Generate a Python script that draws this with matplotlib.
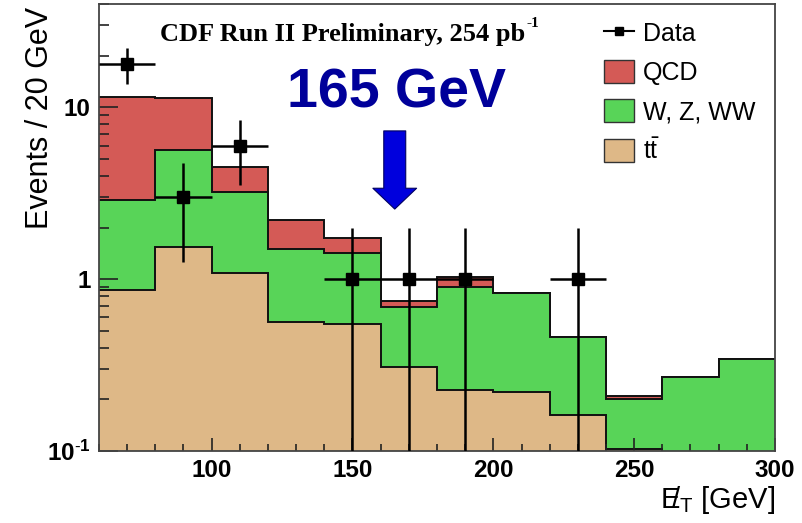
import numpy as np
import matplotlib
matplotlib.use("Agg")
import matplotlib.pyplot as plt
from matplotlib.lines import Line2D
from matplotlib.patches import Patch
from matplotlib.ticker import FixedLocator, FixedFormatter, MultipleLocator

plt.rcParams['font.family'] = ['Liberation Sans', 'DejaVu Sans']
plt.rcParams['mathtext.fontset'] = 'custom'
plt.rcParams['mathtext.rm'] = 'Liberation Sans'
plt.rcParams['mathtext.bf'] = 'Liberation Sans:bold'
plt.rcParams['mathtext.it'] = 'Liberation Sans:italic'

# ---------------------------------------------------------------
# missing ET spectrum, 20 GeV bins from 60 to 300 GeV
# ---------------------------------------------------------------
edges = np.arange(60, 301, 20)
ttbar = [0.87, 1.54, 1.09, 0.564, 0.545, 0.309, 0.228, 0.221, 0.162, 0.103, 0.06, 0.05]
wzww = [2.01, 4.10, 2.13, 0.926, 0.875, 0.381, 0.667, 0.608, 0.302, 0.097, 0.209, 0.293]
qcd = [8.62, 5.76, 1.29, 0.72, 0.31, 0.054, 0.135, 0.0, 0.0, 0.009, 0.0, 0.0]
data = [18, 3, 6, 0, 1, 1, 1, 0, 1, 0, 0, 0]

c_qcd = '#d45a56'
c_wzww = '#58d458'
c_tt = '#deb887'

fig = plt.figure(figsize=(8.03, 5.23), dpi=100)
ax = fig.add_axes([99 / 803, 1 - 451 / 523, 676 / 803, 447 / 523])
ax.set_yscale('log')

# stack: draw the summed histograms back to front
s_tt = np.array(ttbar)
s_ew = s_tt + np.array(wzww)
s_all = s_ew + np.array(qcd)
for vals, col in [(s_all, c_qcd), (s_ew, c_wzww), (s_tt, c_tt)]:
    ax.stairs(vals, edges, baseline=1e-3, fill=True, color=col, lw=0)
    ax.stairs(vals, edges, baseline=None, color='#111111', lw=1.4)

# data points with poisson errors
centers = 0.5 * (edges[:-1] + edges[1:])
d = np.array(data, dtype=float)
m = d > 0
err = np.sqrt(d[m])
lo = np.minimum(err, d[m] - 1e-3)
ax.errorbar(centers[m], d[m], xerr=10, yerr=[lo, err], fmt='s', color='black',
            ms=8.5, elinewidth=1.8, capsize=0, zorder=5)

ax.set_xlim(60, 300)
ax.set_ylim(0.1, 40)

# ROOT style axes
ax.yaxis.set_major_locator(FixedLocator([0.1, 1, 10]))
ax.yaxis.set_major_formatter(FixedFormatter([r'$\mathbf{10^{\text{-}1}}$', '1', '10']))
ax.yaxis.set_minor_locator(FixedLocator([k * 10.0 ** e for e in (-1, 0, 1) for k in range(2, 10)]))
ax.yaxis.set_minor_formatter(FixedFormatter([]))
ax.xaxis.set_major_locator(FixedLocator([100, 150, 200, 250, 300]))
ax.xaxis.set_minor_locator(MultipleLocator(10))
ax.tick_params(axis='both', which='both', direction='in', top=False, right=False,
               width=1.2, color='#222222')
ax.tick_params(axis='y', which='major', length=14, pad=6)
ax.tick_params(axis='y', which='minor', length=7)
ax.tick_params(axis='x', which='major', length=9.5, pad=6)
ax.tick_params(axis='x', which='minor', length=5)
for lab in ax.get_xticklabels() + ax.get_yticklabels():
    lab.set_fontsize(17.5)
    lab.set_fontweight('bold')
for sp in ax.spines.values():
    sp.set_linewidth(1.3)
    sp.set_color('#444444')

fig.text(40 / 803, 1 - 7 / 523, 'Events / 20 GeV', rotation=90, ha='center', va='top',
         fontsize=22)
fig.text(775 / 803, 1 - 500 / 523, r'$/\!\!\!\!\!\mathrm{E}_{\mathrm{T}}$ [GeV]', ha='right',
         va='center', fontsize=21)

t = ax.text((160 - 99) / 676, (451 - 34) / 447, 'CDF Run II Preliminary, 254 pb', fontsize=19,
            fontweight='bold', family='Liberation Serif', transform=ax.transAxes, va='center')
ax.annotate('-1', xy=(1, 1), xycoords=t, xytext=(1, 4), textcoords='offset points',
            fontsize=11, fontweight='bold', family='Liberation Serif', ha='left', va='top')

ax.text((287 - 99) / 676, (451 - 94) / 447, '165 GeV', fontsize=40, fontweight='bold',
        color='#00009a', transform=ax.transAxes, va='center', ha='left')

ax.annotate('', xy=(165, 2.56), xytext=(165, 7.3),
            arrowprops=dict(arrowstyle='simple,head_length=15,head_width=31.5,tail_width=15.8',
                            mutation_scale=1, fc='#0000dd', ec='#000060', lw=0.8,
                            shrinkA=0, shrinkB=0))

handles = [
    Line2D([], [], color='black', marker='s', ms=6, lw=1.5),
    Patch(facecolor=c_qcd, edgecolor='#333333', lw=1.0),
    Patch(facecolor=c_wzww, edgecolor='#333333', lw=1.0),
    Patch(facecolor=c_tt, edgecolor='#333333', lw=1.0),
]
labels = ['Data', 'QCD', 'W, Z, WW', r'$\mathrm{t\bar{t}}$']
ax.legend(handles, labels, loc='upper left', bbox_to_anchor=((604 - 99) / 676, (451 - 21) / 447),
          frameon=False, fontsize=18, handlelength=1.2, handleheight=1.05,
          labelspacing=0.56, handletextpad=0.35, borderpad=0, borderaxespad=0)

fig.savefig('out.png', dpi=100)
